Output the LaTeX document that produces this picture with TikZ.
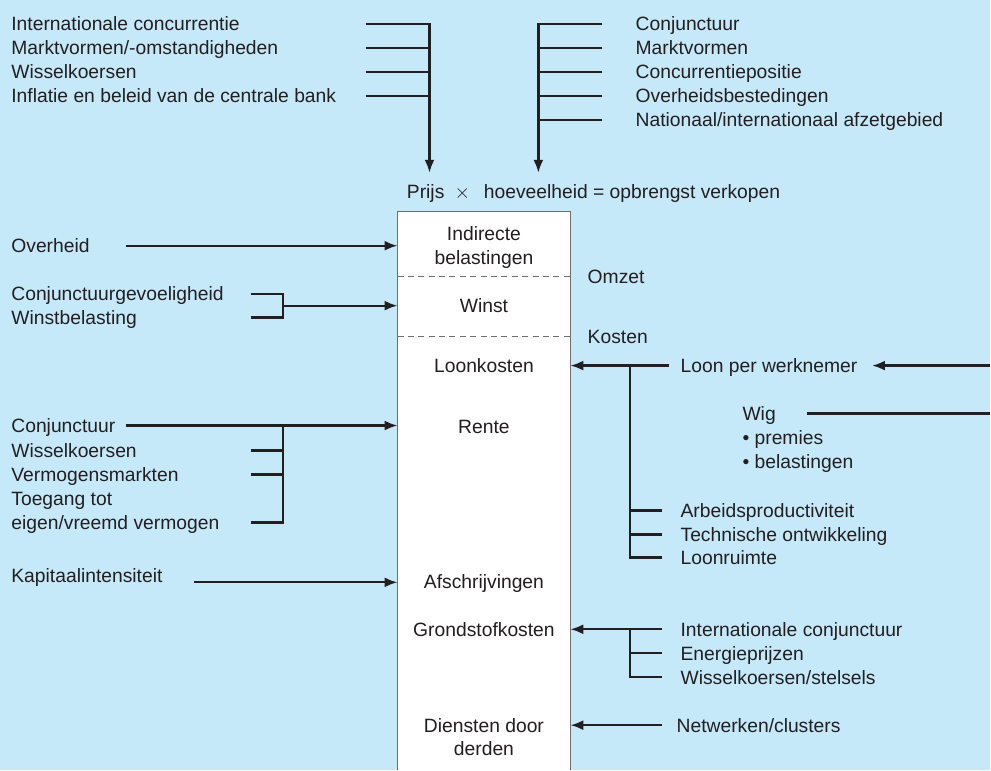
\documentclass[tikz,border=0pt]{standalone}
\usepackage{fontspec}
\setmainfont{Liberation Sans}
\usetikzlibrary{arrows.meta}

\definecolor{bgblue}{RGB}{198,233,250}
\definecolor{ink}{RGB}{35,31,32}
\definecolor{edge}{RGB}{110,110,112}

\tikzset{
    txt/.style={anchor=west, inner sep=0pt, text height=7pt, text depth=0pt,
        text=ink, font=\fontsize{9.65}{12}\selectfont},
    ctxt/.style={txt, anchor=center},
    link/.style={draw=ink, line width=1.15pt},
    arrow/.style={link, -{Latex[length=6.5pt,width=5pt]}},
    split/.style={draw=edge, line width=0.55pt, dash pattern=on 3pt off 2.2pt}
}

\begin{document}
\begin{tikzpicture}[x=0.5pt, y=-0.5pt]
    \fill[bgblue] (0,0) rectangle (991,771);

    % box
    \coordinate (boxL) at (398,212);
    \coordinate (boxR) at (571,212);
    \filldraw[fill=white, draw=edge, line width=0.7pt] (398,771) -- (boxL) -- (boxR) -- (571,771);

    \node[ctxt] (box0) at (484.5,234) {Indirecte};
    \node[ctxt] (box1) at (484.5,258) {belastingen};
    \node[ctxt] (winst) at (484.5,306) {Winst};
    \node[ctxt] (loonk) at (484.5,366) {Loonkosten};
    \node[ctxt] (rente) at (484.5,427) {Rente};
    \node[ctxt] (afschr) at (484.5,582) {Afschrijvingen};
    \node[ctxt] (grondst) at (484.5,630) {Grondstofkosten};
    \node[ctxt] (dienst0) at (484.5,726) {Diensten door};
    \node[ctxt] (dienst1) at (484.5,749) {derden};

    \node[txt] (omzet) at (588,277) {Omzet};
    \node[txt] (kosten) at (588,337) {Kosten};
    \draw[split] (boxL |- omzet) -- (boxR |- omzet);
    \draw[split] (boxL |- kosten) -- (boxR |- kosten);

    % top
    \node[txt] (tl0) at (11,24) {Internationale concurrentie};
    \node[txt] (tl1) at (11,48) {Marktvormen/-omstandigheden};
    \node[txt] (tl2) at (11,72) {Wisselkoersen};
    \node[txt] (tl3) at (11,96) {Inflatie en beleid van de centrale bank};

    \node[txt] (tr0) at (636,24) {Conjunctuur};
    \node[txt] (tr1) at (636,48) {Marktvormen};
    \node[txt] (tr2) at (636,72) {Concurrentiepositie};
    \node[txt] (tr3) at (636,96) {Overheidsbestedingen};
    \node[txt] (tr4) at (636,120) {Nationaal/internationaal afzetgebied};

    \node[txt] (prijs) at (407,192) {Prijs};
    \node[ctxt] (times) at (463,192) {$\times$};
    \node[txt] (opbr) at (484,192) {hoeveelheid = opbrengst verkopen};

    \coordinate (tltick) at (366,24);
    \coordinate (tlbar) at (430,173);
    \coordinate (trtick) at (603,24);
    \coordinate (trbar) at (539,173);

    \draw[arrow] (tl0 -| tltick) -- (tl0 -| tlbar) -- (tlbar);
    \foreach \n in {1,...,3}
        \draw[link] (tl\n -| tltick) -- (tl\n -| tlbar);
    \draw[arrow] (tr0 -| trtick) -- (tr0 -| trbar) -- (trbar);
    \foreach \n in {1,...,4}
        \draw[link] (tr\n -| trtick) -- (tr\n -| trbar);

    % left
    \node[txt] (ov) at (11,246) {Overheid};
    \node[txt] (cg0) at (11,294) {Conjunctuurgevoeligheid};
    \node[txt] (cg1) at (11,318) {Winstbelasting};
    \node[txt] (rt0) at (11,426) {Conjunctuur};
    \node[txt] (rt1) at (11,451) {Wisselkoersen};
    \node[txt] (rt2) at (11,475) {Vermogensmarkten};
    \node[txt] (rt3) at (11,499) {Toegang tot};
    \node[txt] (rt4) at (11,523) {eigen/vreemd vermogen};
    \node[txt] (kap) at (11,576) {Kapitaalintensiteit};

    \coordinate (lstart) at (126,0);
    \coordinate (lbtick) at (251,0);
    \coordinate (lbbar) at (283,0);
    \coordinate (kstart) at (194,583);

    \draw[arrow] (ov -| lstart) -- (ov -| boxL);
    \draw[link] (cg0 -| lbtick) -- (cg0 -| lbbar) -- (cg1 -| lbbar) -- (cg1 -| lbtick);
    \draw[arrow] (winst -| lbbar) -- (winst -| boxL);
    \draw[arrow] (rt0 -| lstart) -- (rt0 -| boxL);
    \draw[link] (rt0 -| lbbar) -- (rt4 -| lbbar) -- (rt4 -| lbtick);
    \foreach \n in {1,2}
        \draw[link] (rt\n -| lbtick) -- (rt\n -| lbbar);
    \draw[arrow] (kstart) -- (kstart -| boxL);

    % right
    \node[txt] (loon) at (681,366) {Loon per werknemer};
    \node[txt] (wig) at (743,414) {Wig};
    \node[txt] (wig1) at (743,438) {• premies};
    \node[txt] (wig2) at (743,462) {• belastingen};
    \node[txt] (lr0) at (681,511) {Arbeidsproductiviteit};
    \node[txt] (lr1) at (681,535) {Technische ontwikkeling};
    \node[txt] (lr2) at (681,558) {Loonruimte};
    \node[txt] (gr0) at (681,630) {Internationale conjunctuur};
    \node[txt] (gr1) at (681,654) {Energieprijzen};
    \node[txt] (gr2) at (681,678) {Wisselkoersen/stelsels};
    \node[txt] (netw) at (677,726) {Netwerken/clusters};

    \coordinate (rtick) at (663,0);
    \coordinate (rbar) at (631,0);
    \coordinate (loonstart) at (670,0);
    \coordinate (loontip) at (873,0);
    \coordinate (wigstart) at (808,0);
    \coordinate (redge) at (991,0);

    \draw[arrow] (loon -| loonstart) -- (loon -| boxR);
    \draw[link] (loon -| rbar) -- (lr2 -| rbar) -- (lr2 -| rtick);
    \foreach \n in {0,1}
        \draw[link] (lr\n -| rtick) -- (lr\n -| rbar);
    \draw[arrow] (loon -| redge) -- (loon -| loontip);
    \draw[link] (wig -| wigstart) -- (wig -| redge);

    \draw[arrow] (gr0 -| rtick) -- (gr0 -| boxR);
    \draw[link] (gr0 -| rbar) -- (gr2 -| rbar) -- (gr2 -| rtick);
    \draw[link] (gr1 -| rtick) -- (gr1 -| rbar);
    \draw[arrow] (netw -| rtick) -- (netw -| boxR);
\end{tikzpicture}
\end{document}
